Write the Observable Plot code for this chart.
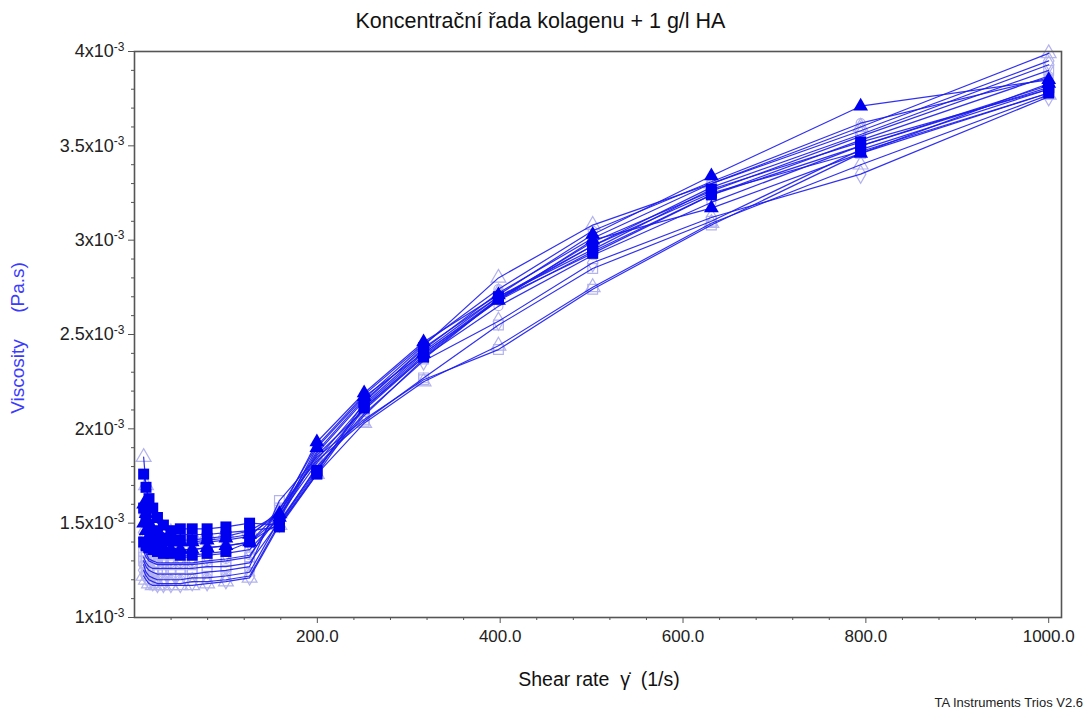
<!DOCTYPE html>
<html>
<head>
<meta charset="utf-8">
<script src="https://cdn.jsdelivr.net/npm/d3@7"></script>
<script src="https://cdn.jsdelivr.net/npm/@observablehq/plot@0.6"></script>
<style>
  body { margin: 0; background: #fff; font-family: "Liberation Sans", Arial, sans-serif; }
  #wrap { position: relative; width: 1088px; height: 715px; overflow: hidden; }
  #title { position: absolute; left: 0; top: 9px; width: 1081px; text-align: center; font-size: 21.5px; color: #111; }
  #chart { position: absolute; left: 0; top: 40px; }
  #caption { position: absolute; right: 5px; top: 695px; font-size: 13px; color: #222; }
</style>
</head>
<body>
<div id="wrap">
  <div id="title">Koncentrační řada kolagenu + 1 g/l HA</div>
  <div id="chart"></div>
  <div id="caption">TA Instruments Trios V2.6</div>
</div>
<script>
// Shear rate (1/s)
const shearRate = [10, 12.59, 15.85, 19.95, 25.12, 31.62, 39.81, 50.12, 63.1, 79.43, 100, 125.9, 158.5, 199.5, 251.2, 316.2, 398.1, 501.2, 631, 794.3, 1000];

// Viscosity (mPa.s) of each measured sample
const s1  = [1.76, 1.69, 1.63, 1.58, 1.53, 1.49, 1.46, 1.47, 1.47, 1.47, 1.48, 1.50, 1.49, 1.77, 2.14, 2.43, 2.70, 2.95, 3.27, 3.52, 3.80];
const s2  = [1.40, 1.38, 1.37, 1.36, 1.35, 1.34, 1.34, 1.33, 1.33, 1.34, 1.35, 1.40, 1.50, 1.78, 2.12, 2.40, 2.69, 2.97, 3.25, 3.47, 3.78];
const s3  = [1.60, 1.55, 1.50, 1.46, 1.43, 1.41, 1.40, 1.40, 1.40, 1.41, 1.42, 1.44, 1.55, 1.93, 2.19, 2.46, 2.71, 3.03, 3.34, 3.71, 3.85];
const s4  = [1.50, 1.46, 1.43, 1.40, 1.38, 1.37, 1.36, 1.36, 1.36, 1.37, 1.38, 1.40, 1.53, 1.90, 2.17, 2.40, 2.68, 3.00, 3.17, 3.46, 3.83];
const s5  = [1.30, 1.27, 1.25, 1.24, 1.23, 1.23, 1.23, 1.23, 1.23, 1.24, 1.25, 1.27, 1.62, 1.85, 2.05, 2.26, 2.42, 2.74, 3.08, 3.46, 3.78];
const s6  = [1.35, 1.32, 1.30, 1.29, 1.28, 1.28, 1.28, 1.28, 1.28, 1.29, 1.30, 1.32, 1.58, 1.83, 2.04, 2.27, 2.55, 2.85, 3.10, 3.48, 3.80];
const s7  = [1.25, 1.22, 1.20, 1.19, 1.18, 1.18, 1.18, 1.18, 1.19, 1.19, 1.20, 1.22, 1.50, 1.80, 2.08, 2.36, 2.57, 2.88, 3.12, 3.35, 3.76];
const s8  = [1.28, 1.24, 1.22, 1.21, 1.20, 1.20, 1.20, 1.20, 1.21, 1.21, 1.22, 1.24, 1.52, 1.86, 2.10, 2.38, 2.65, 2.92, 3.20, 3.50, 3.82];
const s9  = [1.85, 1.70, 1.60, 1.54, 1.50, 1.47, 1.45, 1.44, 1.44, 1.44, 1.45, 1.46, 1.55, 1.88, 2.16, 2.44, 2.80, 3.08, 3.30, 3.60, 3.99];
const s10 = [1.45, 1.42, 1.40, 1.38, 1.37, 1.36, 1.36, 1.36, 1.36, 1.37, 1.38, 1.40, 1.56, 1.84, 2.13, 2.41, 2.70, 2.97, 3.28, 3.56, 3.93];
const s11 = [1.38, 1.34, 1.31, 1.30, 1.29, 1.29, 1.29, 1.29, 1.29, 1.30, 1.31, 1.33, 1.54, 1.82, 2.11, 2.39, 2.68, 2.94, 3.24, 3.53, 3.87];
const s12 = [1.32, 1.29, 1.27, 1.26, 1.26, 1.26, 1.26, 1.26, 1.26, 1.27, 1.27, 1.29, 1.51, 1.79, 2.07, 2.37, 2.69, 2.99, 3.26, 3.55, 3.90];
const s13 = [1.42, 1.39, 1.36, 1.34, 1.33, 1.32, 1.32, 1.32, 1.32, 1.33, 1.34, 1.36, 1.53, 1.87, 2.15, 2.42, 2.72, 3.01, 3.30, 3.58, 3.95];
const s14 = [1.55, 1.50, 1.46, 1.43, 1.41, 1.40, 1.39, 1.39, 1.39, 1.40, 1.41, 1.43, 1.57, 1.91, 2.18, 2.45, 2.74, 3.05, 3.31, 3.62, 3.86];
const s15 = [1.22, 1.20, 1.18, 1.17, 1.17, 1.17, 1.17, 1.17, 1.17, 1.18, 1.19, 1.21, 1.49, 1.76, 2.03, 2.25, 2.44, 2.75, 3.09, 3.40, 3.77];
const s16 = [1.58, 1.53, 1.49, 1.46, 1.44, 1.42, 1.41, 1.41, 1.41, 1.42, 1.43, 1.46, 1.48, 1.76, 2.11, 2.38, 2.69, 2.93, 3.24, 3.50, 3.81];

const seriesValues = [s1, s2, s3, s4, s5, s6, s7, s8, s9, s10, s11, s12, s13, s14, s15, s16];
const seriesMarker = ["sqF", "sqF", "triF", "triF", "sqO", "sqO", "diaO", "cirO", "triO", "diaO", "cirO", "sqO", "diaO", "cirO", "triO", "sqF"];

const xTicks = [200, 400, 600, 800, 1000];
const yTicks = [0.001, 0.0015, 0.002, 0.0025, 0.003, 0.0035, 0.004];

const rows = [];
seriesValues.forEach((vals, i) => vals.forEach((v, j) => rows.push({series: i, marker: seriesMarker[i], rate: shearRate[j], visc: v * 1e-3})));

const lineBlue = "#1a1af0";
const lightMark = "#b3b3ee";
const of = (m) => rows.filter(d => d.marker === m);

const xMinor = d3.range(40, 1001, 40).filter(v => !xTicks.includes(v));
const yMinor = d3.range(11, 40).map(v => v / 10000).filter(v => Math.round(v * 20000) % 10 !== 0);

const plot = Plot.plot({
  width: 1088,
  height: 650,
  marginLeft: 134,
  marginRight: 27,
  marginTop: 11,
  marginBottom: 73,
  style: {fontFamily: '"Liberation Sans", Arial, sans-serif', fontSize: "16px", color: "#222", background: "#fff"},
  x: {domain: [0, 1014]},
  y: {domain: [0.001, 0.004]},
  marks: [
    Plot.axisX({ticks: xTicks, tickFormat: d => d.toFixed(1), tickSize: 6, tickPadding: 6, fontSize: 17, label: null, stroke: "#555"}),
    Plot.axisX({ticks: xMinor, tickFormat: null, text: null, tickSize: 3, label: null, stroke: "#555"}),
    Plot.axisY({ticks: yTicks, tickFormat: d => String(+(d * 1000).toFixed(1)), tickSize: 6, tickPadding: 4, fontSize: 18, label: null, stroke: "#555"}),
    Plot.axisY({ticks: yMinor, tickFormat: null, text: null, tickSize: 3, label: null, stroke: "#555"}),
    Plot.dot(of("sqO"), {x: "rate", y: "visc", symbol: "square", r: 5.5, stroke: lightMark, fill: "none", strokeWidth: 1.2}),
    Plot.dot(of("diaO"), {x: "rate", y: "visc", symbol: "diamond", r: 5.5, stroke: lightMark, fill: "none", strokeWidth: 1.2}),
    Plot.dot(of("cirO"), {x: "rate", y: "visc", symbol: "circle", r: 4.5, stroke: lightMark, fill: "none", strokeWidth: 1.2}),
    Plot.dot(of("triO"), {x: "rate", y: "visc", symbol: "triangle", r: 5.5, stroke: lightMark, fill: "none", strokeWidth: 1.2}),
    Plot.line(rows, {x: "rate", y: "visc", z: "series", stroke: lineBlue, strokeWidth: 1.2, strokeOpacity: 0.9}),
    Plot.dot(of("sqF"), {x: "rate", y: "visc", symbol: "square", r: 6.2, fill: "#0000f0", stroke: "none"}),
    Plot.dot(of("triF"), {x: "rate", y: "visc", symbol: "triangle", r: 5.5, fill: "#0000f0", stroke: "none"}),
    Plot.frame({stroke: "#555", strokeWidth: 1.6})
  ]
});

document.getElementById("chart").appendChild(plot);

// exponent notation on y tick labels (e.g. 1.5x10^-3)
const svg = d3.select(plot);
svg.selectAll("g[aria-label='y-axis tick label'] text").each(function() {
  const t = d3.select(this);
  const mant = t.text();
  if (!mant) return;
  t.text(mant + "x10");
  t.append("tspan").attr("dy", "-0.55em").attr("font-size", "12px").text("-3");
});

// axis titles
svg.append("text")
  .attr("transform", "translate(24," + (11 + 287) + ") rotate(-90)")
  .attr("text-anchor", "middle")
  .attr("fill", "#3b3bff")
  .attr("font-size", "19px")
  .attr("xml:space", "preserve")
  .text("Viscosity\u00a0\u00a0\u00a0\u00a0\u00a0(Pa.s)");

svg.append("text")
  .attr("x", 599)
  .attr("y", 646)
  .attr("text-anchor", "middle")
  .attr("fill", "#111")
  .attr("font-size", "19.5px")
  .text("Shear rate  γ̇  (1/s)")
  .attr("xml:space", "preserve");
</script>
</body>
</html>
